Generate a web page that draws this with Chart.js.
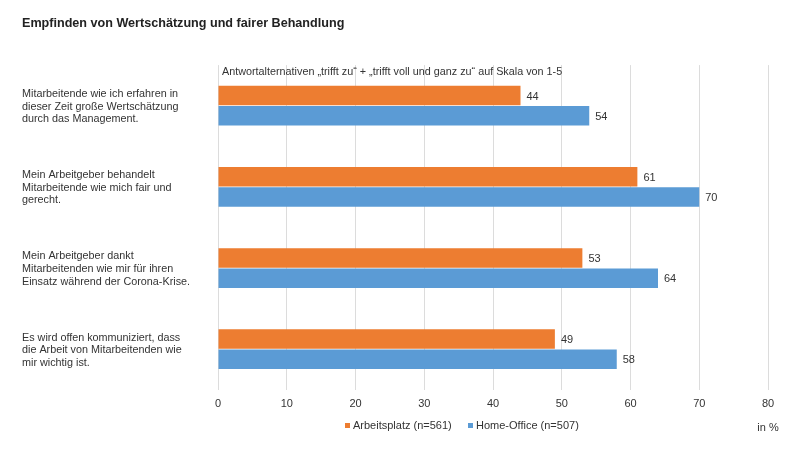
<!DOCTYPE html>
<html>
<head>
<meta charset="utf-8">
<script src="https://cdn.jsdelivr.net/npm/chart.js@4"></script>
<style>
  html, body { margin: 0; padding: 0; background: #fff; }
  #wrap { width: 800px; height: 452px; }
</style>
</head>
<body>
<div id="wrap"><canvas id="chart"></canvas></div>
<script>
// Values
const categories = [
  ["Mitarbeitende wie ich erfahren in", "dieser Zeit große Wertschätzung", "durch das Management."],
  ["Mein Arbeitgeber behandelt", "Mitarbeitende wie mich fair und", "gerecht."],
  ["Mein Arbeitgeber dankt", "Mitarbeitenden wie mir für ihren", "Einsatz während der Corona-Krise."],
  ["Es wird offen kommuniziert, dass", "die Arbeit von Mitarbeitenden wie", "mir wichtig ist."]
];
const arbeitsplatz = [44, 61, 53, 49];
const homeOffice = [54, 70, 64, 58];
const seriesLabels = ["Arbeitsplatz (n=561)", "Home-Office (n=507)"];
const xTicks = [0, 10, 20, 30, 40, 50, 60, 70, 80];

const FONT = "'Liberation Sans', Arial, sans-serif";
const TEXT = '#333333';

// value labels, note line, legend and unit text
const extras = {
  id: 'extras',
  afterDatasetsDraw(chart) {
    const ctx = chart.ctx;
    ctx.save();
    ctx.font = `11px ${FONT}`;
    ctx.fillStyle = TEXT;
    ctx.textAlign = 'left';
    ctx.textBaseline = 'middle';
    chart.data.datasets.forEach((ds, i) => {
      chart.getDatasetMeta(i).data.forEach((bar, j) => {
        ctx.fillText(ds.data[j], bar.x + 6, bar.y + 1);
      });
    });
    const area = chart.chartArea;
    ctx.font = `10.8px ${FONT}`;
    ctx.fillText('Antwortalternativen „trifft zu“ + „trifft voll und ganz zu“ auf Skala von 1-5', area.left + 4, 72);

    // legend
    const legendX = [345, 468];
    ctx.font = `11px ${FONT}`;
    chart.data.datasets.forEach((ds, i) => {
      ctx.fillStyle = ds.backgroundColor;
      ctx.fillRect(legendX[i], 423, 5, 5);
      ctx.fillStyle = TEXT;
      ctx.fillText(ds.label, legendX[i] + 8, 426);
    });

    ctx.textAlign = 'center';
    ctx.fillText('in %', 768, 428);
    ctx.restore();
  }
};

new Chart(document.getElementById('chart'), {
  type: 'bar',
  data: {
    labels: categories,
    datasets: [
      { label: seriesLabels[0], data: arbeitsplatz, backgroundColor: '#ED7D31' },
      { label: seriesLabels[1], data: homeOffice, backgroundColor: '#5B9BD5' }
    ]
  },
  options: {
    indexAxis: 'y',
    responsive: true,
    maintainAspectRatio: false,
    animation: false,
    layout: { padding: { left: 22, right: 32, top: 0, bottom: 33 } },
    datasets: { bar: { categoryPercentage: 0.5, barPercentage: 0.96 } },
    scales: {
      x: {
        min: 0,
        max: 80,
        afterBuildTicks: (scale) => { scale.ticks = xTicks.map(v => ({ value: v })); },
        grid: { color: '#dcdcdc', drawTicks: false },
        border: { display: false },
        ticks: { color: TEXT, padding: 8, font: { family: FONT, size: 11 } }
      },
      y: {
        grid: { display: false, drawTicks: false },
        border: { display: false },
        afterFit: (scale) => { scale.width = 196; },
        ticks: {
          crossAlign: 'far',
          labelOffset: 1,
          color: TEXT,
          font: { family: FONT, size: 10.8, lineHeight: 1.16 }
        }
      }
    },
    plugins: {
      title: {
        display: true,
        text: 'Empfinden von Wertschätzung und fairer Behandlung',
        align: 'start',
        color: '#222',
        font: { family: FONT, size: 12.6, weight: 'bold' },
        padding: { top: 16, bottom: 34 }
      },
      legend: { display: false },
      tooltip: { enabled: false }
    }
  },
  plugins: [extras]
});
</script>
</body>
</html>
